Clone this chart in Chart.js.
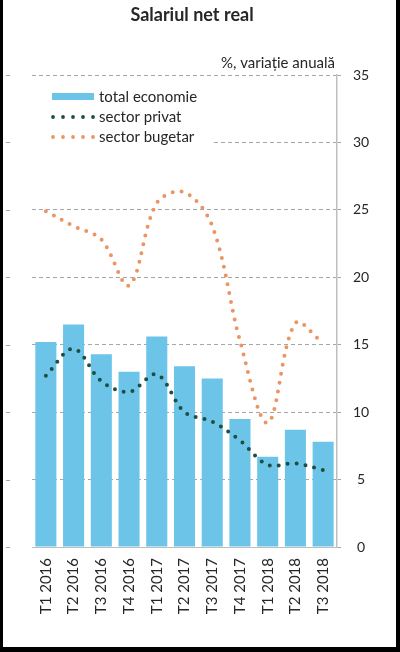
<!DOCTYPE html>
<html>
<head>
<meta charset="utf-8">
<script src="https://cdn.jsdelivr.net/npm/chart.js@4.4.1/dist/chart.umd.min.js"></script>
<style>
  html, body { margin: 0; padding: 0; background: #000; }
  body { width: 400px; height: 652px; position: relative; overflow: hidden; }
  #wrap { position: absolute; left: 3px; top: 0; width: 393px; height: 647px; background: #fff; }
</style>
</head>
<body>
<div id="wrap"><canvas id="salariuChart"></canvas></div>
<script>
  const categories = ["T1 2016", "T2 2016", "T3 2016", "T4 2016", "T1 2017", "T2 2017",
    "T3 2017", "T4 2017", "T1 2018", "T2 2018", "T3 2018"];
  const totalEconomie = [15.2, 16.5, 14.3, 13.0, 15.6, 13.4, 12.5, 9.5, 6.7, 8.7, 7.8];
  const sectorPrivat = [12.7, 14.7, 12.3, 11.5, 12.8, 10.0, 9.3, 7.9, 6.1, 6.2, 5.7];
  const sectorBugetar = [24.9, 23.8, 22.8, 19.4, 25.5, 26.3, 23.8, 15.3, 9.2, 16.6, 15.1];
  const yTicks = [0, 5, 10, 15, 20, 25, 30, 35];

  const chartTitle = "Salariul net real";
  const unitLabel = "%, variație anuală";

  const blue = "#6cc5e9";
  const green = "#1f4f40";
  const orange = "#eb9564";
  const textColor = "#262626";
  const fontFamily = "Lato, 'Open Sans', sans-serif";

  // Title, unit label and the little marks on the left edge
  const textPlugin = {
    id: "textPlugin",
    afterDraw(chart) {
      const ctx = chart.ctx;
      ctx.save();
      ctx.fillStyle = textColor;
      ctx.textBaseline = "middle";
      ctx.font = "bold 18px " + fontFamily;
      ctx.textAlign = "center";
      ctx.fillText(chartTitle, 189, 15);
      ctx.font = "15px " + fontFamily;
      ctx.textAlign = "right";
      ctx.fillText(unitLabel, 332, 63);

      const y = chart.scales.y;
      ctx.strokeStyle = "#a6a6a6";
      ctx.lineWidth = 1;
      yTicks.forEach((v) => {
        const py = Math.round(y.getPixelForValue(v)) + 0.5;
        ctx.beginPath();
        ctx.moveTo(3, py);
        ctx.lineTo(7, py);
        ctx.stroke();
      });
      ctx.restore();
    },
  };

  // Legend inside the plot, drawn over the grid
  const legendPlugin = {
    id: "legendPlugin",
    beforeDatasetsDraw(chart) {
      const ctx = chart.ctx;
      ctx.save();
      ctx.fillStyle = "#fff";
      ctx.fillRect(chart.chartArea.left, 82, 181, 66);

      ctx.fillStyle = blue;
      ctx.fillRect(49, 93, 42, 7);

      [[green, 117], [orange, 137]].forEach(([color, py]) => {
        ctx.fillStyle = color;
        for (let i = 0; i < 5; i++) {
          ctx.beginPath();
          ctx.arc(50 + i * 10, py, 1.9, 0, Math.PI * 2);
          ctx.fill();
        }
      });

      ctx.fillStyle = textColor;
      ctx.font = "15px " + fontFamily;
      ctx.textAlign = "left";
      ctx.textBaseline = "middle";
      ctx.fillText("total economie", 96, 97);
      ctx.fillText("sector privat", 96, 117);
      ctx.fillText("sector bugetar", 96, 137);
      ctx.restore();
    },
  };

  const ctx = document.getElementById("salariuChart").getContext("2d");
  new Chart(ctx, {
    data: {
      labels: categories,
      datasets: [
        {
          type: "line",
          label: "sector privat",
          data: sectorPrivat,
          borderColor: green,
          borderWidth: 4,
          borderDash: [0, 9],
          borderCapStyle: "round",
          pointRadius: 0,
          tension: 0.35,
          fill: false,
          order: 0,
        },
        {
          type: "line",
          label: "sector bugetar",
          data: sectorBugetar,
          borderColor: orange,
          borderWidth: 4,
          borderDash: [0, 9],
          borderCapStyle: "round",
          pointRadius: 0,
          tension: 0.35,
          fill: false,
          order: 0,
        },
        {
          type: "bar",
          label: "total economie",
          data: totalEconomie,
          backgroundColor: blue,
          barPercentage: 0.76,
          categoryPercentage: 1,
          order: 1,
        },
      ],
    },
    options: {
      responsive: true,
      maintainAspectRatio: false,
      animation: false,
      layout: {
        padding: { left: 29, top: 75, right: 0, bottom: 0 },
      },
      plugins: {
        legend: { display: false },
        title: { display: false },
        tooltip: { enabled: false },
      },
      scales: {
        x: {
          grid: { display: false, drawTicks: false },
          border: { display: true, color: "#bfbfbf", width: 1 },
          ticks: {
            autoSkip: false,
            maxRotation: 90,
            minRotation: 90,
            padding: 11,
            color: textColor,
            font: { family: fontFamily, size: 15 },
          },
          afterFit: (scale) => {
            scale.height = 100;
          },
        },
        y: {
          position: "right",
          min: 0,
          max: 35,
          afterBuildTicks: (scale) => {
            scale.ticks = yTicks.map((v) => ({ value: v }));
          },
          grid: { color: "#a6a6a6", lineWidth: 1, tickLength: 4 },
          border: { display: true, color: "#bfbfbf", width: 1.5, dash: [4, 3] },
          ticks: {
            color: textColor,
            padding: 12,
            crossAlign: "center",
            font: { family: fontFamily, size: 14 },
          },
          afterFit: (scale) => {
            scale.width = 59;
          },
        },
      },
    },
    plugins: [legendPlugin, textPlugin],
  });
</script>
</body>
</html>
